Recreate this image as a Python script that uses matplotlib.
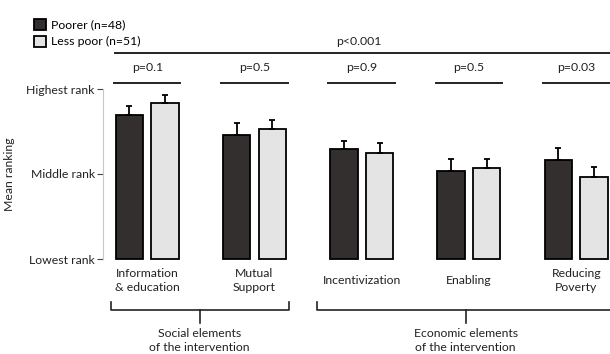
import matplotlib.pyplot as plt
import numpy as np

plt.rcParams['font.family'] = ['Lato', 'DejaVu Sans']

# mean ranks (1 = lowest, 2 = middle, 3 = highest)
categories = ["Information\n& education", "Mutual\nSupport", "Incentivization",
              "Enabling", "Reducing\nPoverty"]
poorer = [2.69, 2.46, 2.29, 2.03, 2.17]
poorer_err = [0.11, 0.14, 0.10, 0.15, 0.14]
less_poor = [2.83, 2.53, 2.25, 2.07, 1.97]
less_poor_err = [0.10, 0.10, 0.12, 0.11, 0.11]
p_values = ["p=0.1", "p=0.5", "p=0.9", "p=0.5", "p=0.03"]
overall_p = "p<0.001"
rank_labels = ["Lowest rank", "Middle rank", "Highest rank"]

dark = "#332f2f"
light = "#e4e4e4"
txt = "#222222"
fs = 8.8

fig = plt.figure(figsize=(6.1, 3.54), dpi=100)
ax = fig.add_axes([103 / 610, 95 / 354, 507 / 610, 170 / 354])

x = np.arange(len(categories))
off = 0.166
w = 0.255
ax.bar(x - off, np.array(poorer) - 1, w, bottom=1, color=dark, edgecolor="black",
       linewidth=1.3, label="Poorer (n=48)", clip_on=False)
ax.bar(x + off, np.array(less_poor) - 1, w, bottom=1, color=light, edgecolor="black",
       linewidth=1.3, label="Less poor (n=51)", clip_on=False)
ax.errorbar(x - off, poorer, yerr=[np.zeros(5), poorer_err], fmt="none",
            ecolor="black", elinewidth=1.3, capsize=2, capthick=1.3, clip_on=False)
ax.errorbar(x + off, less_poor, yerr=[np.zeros(5), less_poor_err], fmt="none",
            ecolor="black", elinewidth=1.3, capsize=2, capthick=1.3, clip_on=False)

ax.set_xlim(-0.412, 4.315)
ax.set_ylim(1, 3)
ax.set_xticks([])
ax.set_yticks([1, 2, 3])
ax.set_yticklabels(rank_labels, fontsize=fs, color=txt)
ax.tick_params(axis="y", length=4, width=0.8, color="#444444", pad=2)
for s in ["top", "right", "bottom"]:
    ax.spines[s].set_visible(False)
ax.spines["left"].set_color("#c8c8c8")
ax.spines["left"].set_linewidth(0.8)
ax.set_ylabel("Mean ranking", fontsize=fs, color=txt)
ax.yaxis.set_label_coords(-0.174, 0.5)

# p-value lines per group
for i, p in enumerate(p_values):
    ax.plot([i - 0.31, i + 0.31], [3.074, 3.074], color=txt, lw=1.4, clip_on=False)
    ax.text(i, 3.25, p, ha="center", va="center", fontsize=fs, color=txt)
ax.plot([-0.30, 4.4], [3.42, 3.42], color=txt, lw=1.4, clip_on=False)
ax.text(1.97, 3.56, overall_p, ha="center", va="center", fontsize=fs, color=txt)

# category labels
for i, c in enumerate(categories):
    ax.text(i, 0.75, c, ha="center", va="center", fontsize=fs, color=txt,
            linespacing=1.3)

# brackets
def bracket(x0, x1, xc, label):
    ax.plot([x0, x0, x1, x1], [0.49, 0.40, 0.40, 0.49], color=txt, lw=1.2,
            clip_on=False, solid_joinstyle="round")
    ax.plot([xc, xc], [0.40, 0.25], color=txt, lw=1.2, clip_on=False)
    ax.text(xc, 0.04, label, ha="center", va="center", fontsize=fs, color=txt,
            linespacing=1.3)

bracket(-0.34, 1.325, 0.49, "Social elements\nof the intervention")
bracket(1.585, 4.37, 2.97, "Economic elements\nof the intervention")

ax.legend(loc="upper left", bbox_to_anchor=(0.048, 0.96), bbox_transform=fig.transFigure,
          frameon=False, fontsize=fs, handlelength=0.95, handleheight=0.95,
          handletextpad=0.45, labelspacing=0.45, borderaxespad=0)

fig.savefig("out.png", dpi=100)
